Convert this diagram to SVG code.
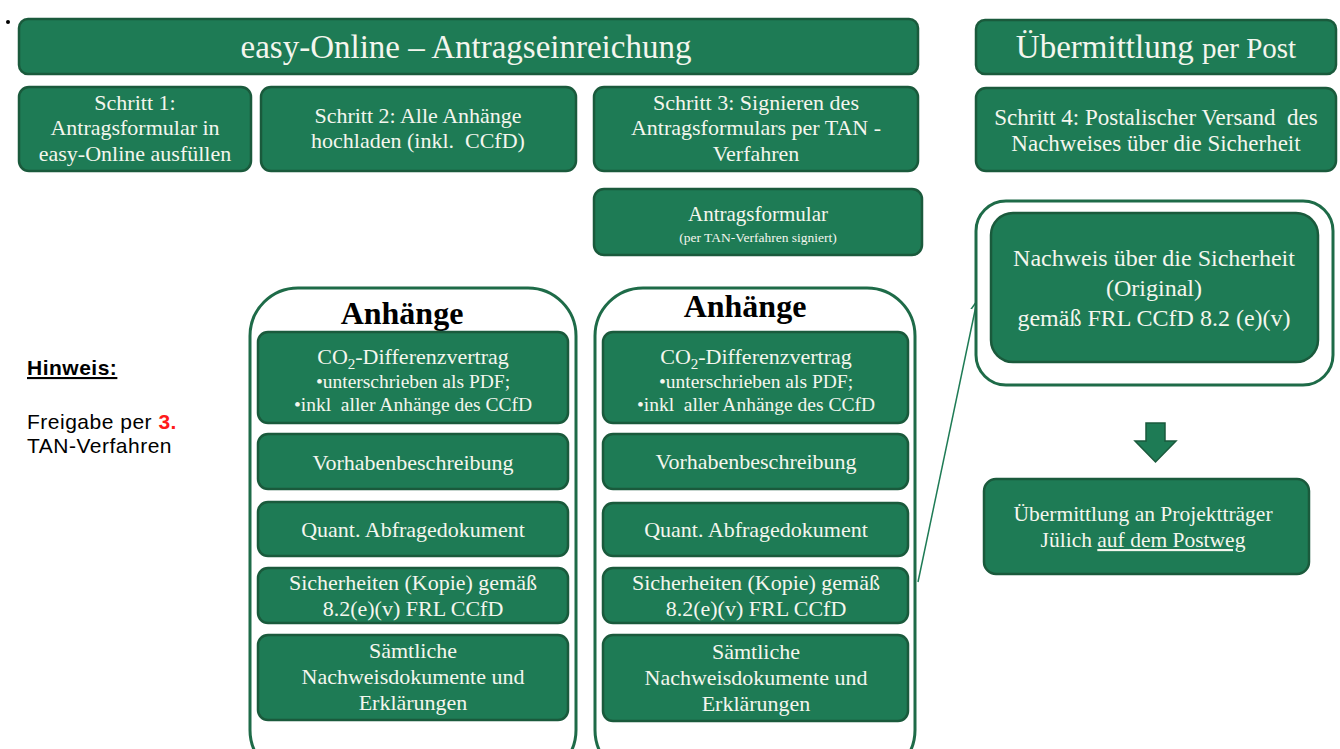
<svg xmlns="http://www.w3.org/2000/svg" width="1340" height="749" viewBox="0 0 1340 749">
<defs>
<style>
.b{fill:#1e7b55;stroke:#1a5a3c;stroke-width:2.5}
.c{fill:#fff;stroke:#1e6b48;stroke-width:3}
.t{font-family:"Liberation Serif","Times New Roman",serif;fill:#f4f6ee;text-anchor:middle;font-size:22px}
.h{font-family:"Liberation Serif",serif;font-weight:bold;fill:#000;text-anchor:middle;font-size:32px}
.s{font-family:"Liberation Sans",Arial,sans-serif;fill:#000;font-size:21px;letter-spacing:0.5px}
</style>
<marker id="ah" viewBox="0 0 10 10" refX="9" refY="5" markerWidth="7" markerHeight="7" orient="auto"><path d="M0,1 L9,5 L0,9" fill="none" stroke="#1e7b55" stroke-width="1.5"/></marker>
</defs>
<rect width="1340" height="749" fill="#fff"/>
<circle cx="8" cy="22" r="2" fill="#000"/>

<g id="header-online"><rect class="b" x="19" y="19" width="899" height="55" rx="9"/><text class="t" x="466" y="58" style="font-size:33px">easy-Online – Antragseinreichung</text></g>
<g id="header-post"><rect class="b" x="976" y="20" width="360" height="54" rx="9"/><text class="t" x="1156" y="58" style="font-size:33px">Übermittlung <tspan font-size="29">per Post</tspan></text></g>

<g id="step1"><rect class="b" x="19" y="87" width="232" height="84" rx="10"/><text class="t"><tspan x="135" y="110">Schritt 1:</tspan><tspan x="135" y="135">Antragsformular in</tspan><tspan x="135" y="161">easy-Online ausfüllen</tspan></text></g>
<g id="step2"><rect class="b" x="261" y="87" width="315" height="84" rx="10"/><text class="t"><tspan x="418" y="123">Schritt 2: Alle Anhänge</tspan><tspan x="418" y="148">hochladen (inkl.&#160; CCfD)</tspan></text></g>
<g id="step3"><rect class="b" x="594" y="87" width="324" height="84" rx="10"/><text class="t"><tspan x="756" y="110">Schritt 3: Signieren des</tspan><tspan x="756" y="135">Antragsformulars per TAN -</tspan><tspan x="756" y="161">Verfahren</tspan></text></g>
<g id="step4"><rect class="b" x="976" y="88" width="360" height="83" rx="10"/><text class="t" style="font-size:23px"><tspan x="1156" y="125">Schritt 4: Postalischer Versand&#160; des</tspan><tspan x="1156" y="151">Nachweises über die Sicherheit</tspan></text></g>

<g id="antragsformular"><rect class="b" x="594" y="189" width="328" height="66" rx="10"/><text class="t"><tspan x="758" y="221" font-size="21">Antragsformular</tspan><tspan x="758" y="242" font-size="13.5">(per TAN-Verfahren signiert)</tspan></text></g>

<g id="connectors"><line x1="918" y1="582" x2="977" y2="301" stroke="#1e7b55" stroke-width="1.5" marker-end="url(#ah)"/></g>

<g id="anhaenge-left">
<rect class="c" x="250" y="288" width="326" height="490" rx="48"/>
<text class="h" x="402" y="324">Anhänge</text>
<rect class="b" x="258" y="332" width="310" height="91" rx="10"/>
<text class="t"><tspan x="413" y="364">CO<tspan font-size="15" dy="5">2</tspan><tspan dy="-5">-Differenzvertrag</tspan></tspan><tspan x="413" y="388" font-size="19.5">•unterschrieben als PDF;</tspan><tspan x="413" y="411" font-size="19.5">•inkl&#160; aller Anhänge des CCfD</tspan></text>
<rect class="b" x="258" y="434" width="310" height="55" rx="10"/><text class="t" x="413" y="470">Vorhabenbeschreibung</text>
<rect class="b" x="258" y="502" width="310" height="54" rx="10"/><text class="t" x="413" y="537">Quant. Abfragedokument</text>
<rect class="b" x="258" y="568" width="310" height="55" rx="10"/><text class="t"><tspan x="413" y="590">Sicherheiten (Kopie) gemäß</tspan><tspan x="413" y="616">8.2(e)(v) FRL CCfD</tspan></text>
<rect class="b" x="258" y="635" width="310" height="85" rx="10"/><text class="t"><tspan x="413" y="658">Sämtliche</tspan><tspan x="413" y="684">Nachweisdokumente und</tspan><tspan x="413" y="710">Erklärungen</tspan></text>
</g>

<g id="anhaenge-right">
<rect class="c" x="595" y="288" width="320" height="490" rx="48"/>
<text class="h" x="745" y="317">Anhänge</text>
<rect class="b" x="603" y="332" width="305" height="91" rx="10"/>
<text class="t"><tspan x="756" y="364">CO<tspan font-size="15" dy="5">2</tspan><tspan dy="-5">-Differenzvertrag</tspan></tspan><tspan x="756" y="388" font-size="19.5">•unterschrieben als PDF;</tspan><tspan x="756" y="411" font-size="19.5">•inkl&#160; aller Anhänge des CCfD</tspan></text>
<rect class="b" x="603" y="434" width="305" height="55" rx="10"/><text class="t" x="756" y="469">Vorhabenbeschreibung</text>
<rect class="b" x="603" y="503" width="305" height="53" rx="10"/><text class="t" x="756" y="537">Quant. Abfragedokument</text>
<rect class="b" x="603" y="568" width="305" height="55" rx="10"/><text class="t"><tspan x="756" y="590">Sicherheiten (Kopie) gemäß</tspan><tspan x="756" y="616">8.2(e)(v) FRL CCfD</tspan></text>
<rect class="b" x="603" y="635" width="305" height="86" rx="10"/><text class="t"><tspan x="756" y="659">Sämtliche</tspan><tspan x="756" y="685">Nachweisdokumente und</tspan><tspan x="756" y="711">Erklärungen</tspan></text>
</g>

<g id="nachweis">
<rect class="c" x="976" y="201" width="357" height="184" rx="30"/>
<rect class="b" x="991" y="213" width="327" height="149" rx="22"/>
<text class="t" style="font-size:24px"><tspan x="1154" y="266">Nachweis über die Sicherheit</tspan><tspan x="1154" y="296">(Original)</tspan><tspan x="1154" y="326">gemäß FRL CCfD 8.2 (e)(v)</tspan></text>
</g>

<g id="down-arrow"><path d="M1146,423 H1165 V441 H1176 L1155.5,462 L1135,441 H1146 Z" fill="#1e7b55" stroke="#1a5a3c" stroke-width="1.5"/></g>

<g id="uebermittlung"><rect class="b" x="984" y="479" width="325" height="95" rx="12"/><text class="t" style="font-size:21.5px"><tspan x="1143" y="521">Übermittlung an Projektträger</tspan><tspan x="1143" y="547">Jülich <tspan text-decoration="underline">auf dem Postweg</tspan></tspan></text></g>

<g id="hinweis">
<text class="s" x="27" y="375" font-weight="bold" text-decoration="underline">Hinweis:</text>
<text class="s" x="27" y="429">Freigabe per <tspan fill="#ff1a1a" font-weight="bold">3.</tspan></text>
<text class="s" x="27" y="453">TAN-Verfahren</text>
</g>
</svg>
